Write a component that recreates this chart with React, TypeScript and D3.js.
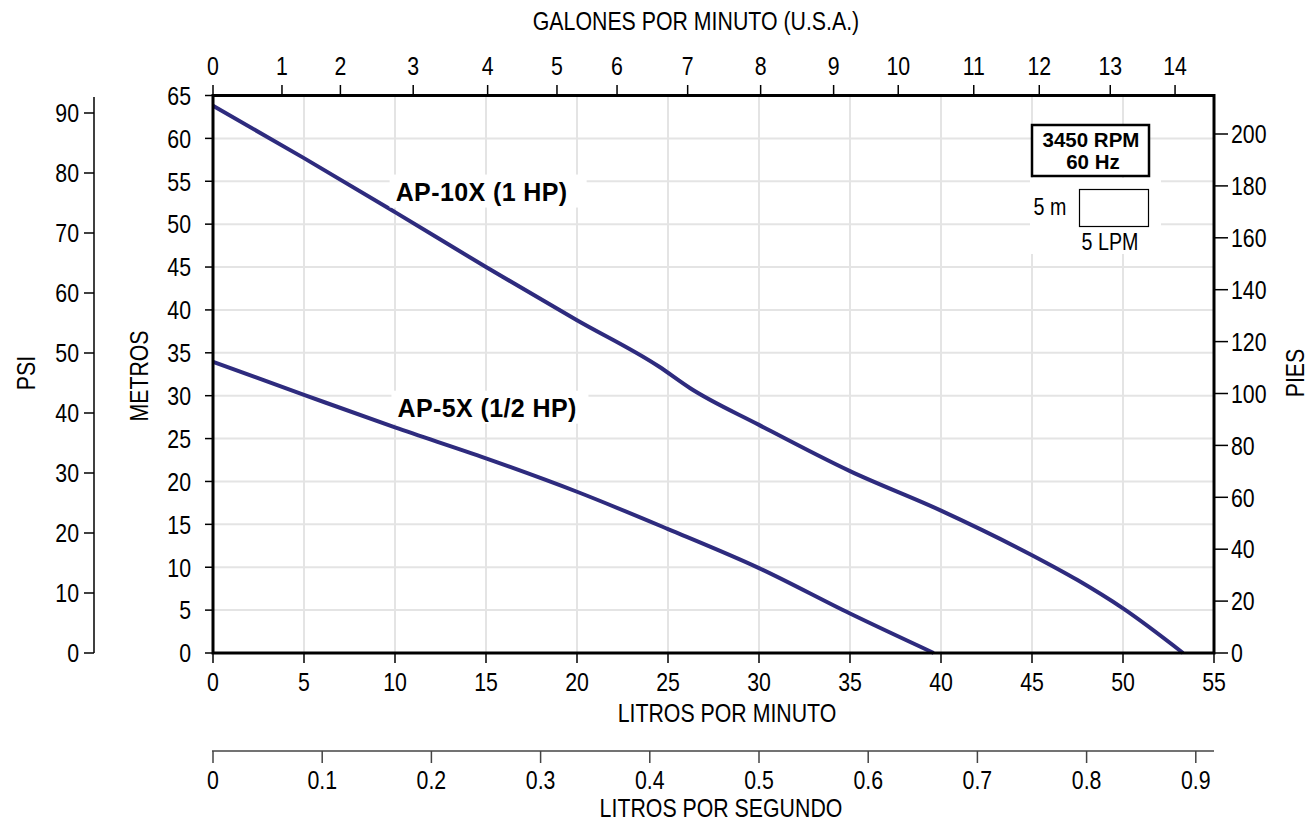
import React from "react";
import * as d3 from "d3";

// ---- data ----
const ap10x: [number, number][] = [
  [0, 63.8], [5, 57.7], [10, 51.4], [15, 45.0], [20, 38.8], [24.5, 33.4], [26.2, 30.9],
  [30, 26.6], [35, 21.2], [40, 16.6], [45, 11.4], [47.5, 8.5], [50, 5.2], [53.3, 0],
];
const ap5x: [number, number][] = [
  [0, 33.95], [5, 30.1], [10, 26.3], [15, 22.7], [20, 18.8], [25, 14.45], [30, 9.9],
  [35, 4.6], [39.6, 0],
];
const lpmTicks = [0, 5, 10, 15, 20, 25, 30, 35, 40, 45, 50, 55];
const meterTicks = [0, 5, 10, 15, 20, 25, 30, 35, 40, 45, 50, 55, 60, 65];
const psiTicks = [0, 10, 20, 30, 40, 50, 60, 70, 80, 90];
const feetTicks = [0, 20, 40, 60, 80, 100, 120, 140, 160, 180, 200];
const lpsTicks = [0, 0.1, 0.2, 0.3, 0.4, 0.5, 0.6, 0.7, 0.8, 0.9];
const gpmLabels = [0, 1, 2, 3, 4, 5, 6, 7, 8, 9, 10, 11, 12, 13, 14];
// positions of the GPM ticks, in LPM, as drawn on the reference
const gpmAtLpm = [0, 3.79, 7.0, 11.0, 15.09, 18.9, 22.2, 26.08, 30.09, 34.1, 37.65, 41.8, 45.4, 49.3, 52.86];
const series = [
  { name: "AP-10X (1 HP)", data: ap10x, labelLpm: 10.2, labelM: 53.8 },
  { name: "AP-5X (1/2 HP)", data: ap5x, labelLpm: 10.3, labelM: 28.6 },
];

const FONT = "'Liberation Sans', Arial, Helvetica, sans-serif";
const LINE = "#2e2b7e";
const GRID = "#e4e4e4";
const SQUEEZE = 0.82;

type TProps = {
  x: number;
  y: number;
  anchor?: "start" | "middle" | "end";
  size?: number;
  rotate?: boolean;
  children: React.ReactNode;
};

// condensed text (narrow sans look)
function T({ x, y, anchor = "middle", size = 26, rotate = false, children }: TProps) {
  return (
    <text
      transform={`translate(${x},${y})${rotate ? " rotate(-90)" : ""} scale(${SQUEEZE},1)`}
      textAnchor={anchor}
      dominantBaseline="central"
      fontSize={size}
      fill="#000"
    >
      {children}
    </text>
  );
}

export default function App() {
  const x = d3.scaleLinear().domain([0, 55]).range([213, 1214]);
  const y = d3.scaleLinear().domain([0, 65]).range([653, 95.5]);
  const yPsi = d3.scaleLinear().domain([0, 90]).range([653, 113]);
  const yFt = d3.scaleLinear().domain([0, 200]).range([653, 134]);
  const xLps = d3.scaleLinear().domain([0, 55 / 60]).range([213, 1214]);

  const line = d3
    .line<[number, number]>()
    .x((d) => x(d[0]))
    .y((d) => y(d[1]))
    .curve(d3.curveMonotoneX);

  return (
    <svg
      width={1315}
      height={825}
      style={{ position: "absolute", left: 0, top: 0, background: "#fff" }}
      fontFamily={FONT}
    >
      {/* grid */}
      {lpmTicks.slice(1, -1).map((t) => (
        <line key={"gv" + t} x1={x(t)} x2={x(t)} y1={y(65)} y2={y(0)} stroke={GRID} strokeWidth={2} />
      ))}
      {meterTicks.slice(1, -1).map((t) => (
        <line key={"gh" + t} x1={x(0)} x2={x(55)} y1={y(t)} y2={y(t)} stroke={GRID} strokeWidth={2} />
      ))}

      {/* legend white area */}
      <rect x={1030} y={178} width={131} height={76} fill="#fff" />

      {/* curves */}
      {series.map((s) => (
        <path key={s.name} d={line(s.data) || ""} fill="none" stroke={LINE} strokeWidth={4} strokeLinejoin="round" />
      ))}

      {/* curve labels */}
      {series.map((s) => (
        <g key={"lab" + s.name}>
          <rect x={x(s.labelLpm) - 9} y={y(s.labelM) - 17} width={197} height={33} fill="#fff" />
          <text
            x={x(s.labelLpm) - 3}
            y={y(s.labelM)}
            dominantBaseline="central"
            fontSize={25}
            fontWeight="bold"
            letterSpacing={0.4}
            fill="#000"
          >
            {s.name}
          </text>
        </g>
      ))}

      {/* plot frame */}
      <rect x={x(0)} y={y(65)} width={x(55) - x(0)} height={y(0) - y(65)} fill="none" stroke="#000" strokeWidth={3} />

      {/* left metros axis */}
      {meterTicks.map((t) => (
        <g key={"m" + t}>
          <line x1={205} x2={x(0)} y1={y(t)} y2={y(t)} stroke="#000" strokeWidth={1.5} />
          <T x={191} y={y(t)} anchor="end">{t}</T>
        </g>
      ))}
      <T x={139} y={376} rotate>METROS</T>

      {/* psi axis */}
      <line x1={94} x2={94} y1={97} y2={yPsi(0)} stroke="#000" strokeWidth={1.5} />
      {psiTicks.map((t) => (
        <g key={"p" + t}>
          <line x1={84} x2={94} y1={yPsi(t)} y2={yPsi(t)} stroke="#000" strokeWidth={1.5} />
          <T x={79} y={yPsi(t)} anchor="end">{t}</T>
        </g>
      ))}
      <T x={26} y={373} rotate>PSI</T>

      {/* right feet axis */}
      {feetTicks.map((t) => (
        <g key={"f" + t}>
          <line x1={x(55)} x2={1228} y1={yFt(t)} y2={yFt(t)} stroke="#000" strokeWidth={1.5} />
          <T x={1231} y={yFt(t)} anchor="start">{t}</T>
        </g>
      ))}
      <T x={1295} y={373} rotate>PIES</T>

      {/* top gpm axis */}
      {gpmLabels.map((g, i) => (
        <g key={"g" + g}>
          <line x1={x(gpmAtLpm[i])} x2={x(gpmAtLpm[i])} y1={85} y2={y(65)} stroke="#000" strokeWidth={1.5} />
          <T x={x(gpmAtLpm[i])} y={66}>{g}</T>
        </g>
      ))}
      <T x={696} y={21}>GALONES POR MINUTO (U.S.A.)</T>

      {/* bottom lpm axis */}
      {lpmTicks.map((t) => (
        <g key={"l" + t}>
          <line x1={x(t)} x2={x(t)} y1={y(0)} y2={663} stroke="#000" strokeWidth={1.5} />
          <T x={x(t)} y={682}>{t}</T>
        </g>
      ))}
      <T x={727} y={713}>LITROS POR MINUTO</T>

      {/* lps axis */}
      <line x1={212} x2={1214} y1={751} y2={751} stroke="#444" strokeWidth={1.5} />
      {lpsTicks.map((t) => (
        <g key={"s" + t}>
          <line x1={xLps(t)} x2={xLps(t)} y1={751} y2={763} stroke="#444" strokeWidth={1.5} />
          <T x={xLps(t)} y={780}>{t}</T>
        </g>
      ))}
      <T x={721} y={808}>LITROS POR SEGUNDO</T>

      {/* legend */}
      <rect x={1032} y={125} width={117} height={51} fill="#fff" stroke="#000" strokeWidth={2.5} />
      <text x={1091} y={139.5} textAnchor="middle" dominantBaseline="central" fontSize={20.5} fontWeight="bold">
        3450 RPM
      </text>
      <text x={1093} y={161.5} textAnchor="middle" dominantBaseline="central" fontSize={20.5} fontWeight="bold">
        60 Hz
      </text>
      <rect x={1079.5} y={189.5} width={69} height={37} fill="#fff" stroke="#000" strokeWidth={1.2} />
      <T x={1050} y={207} size={24}>5 m</T>
      <T x={1110} y={242} size={24}>5 LPM</T>
    </svg>
  );
}
